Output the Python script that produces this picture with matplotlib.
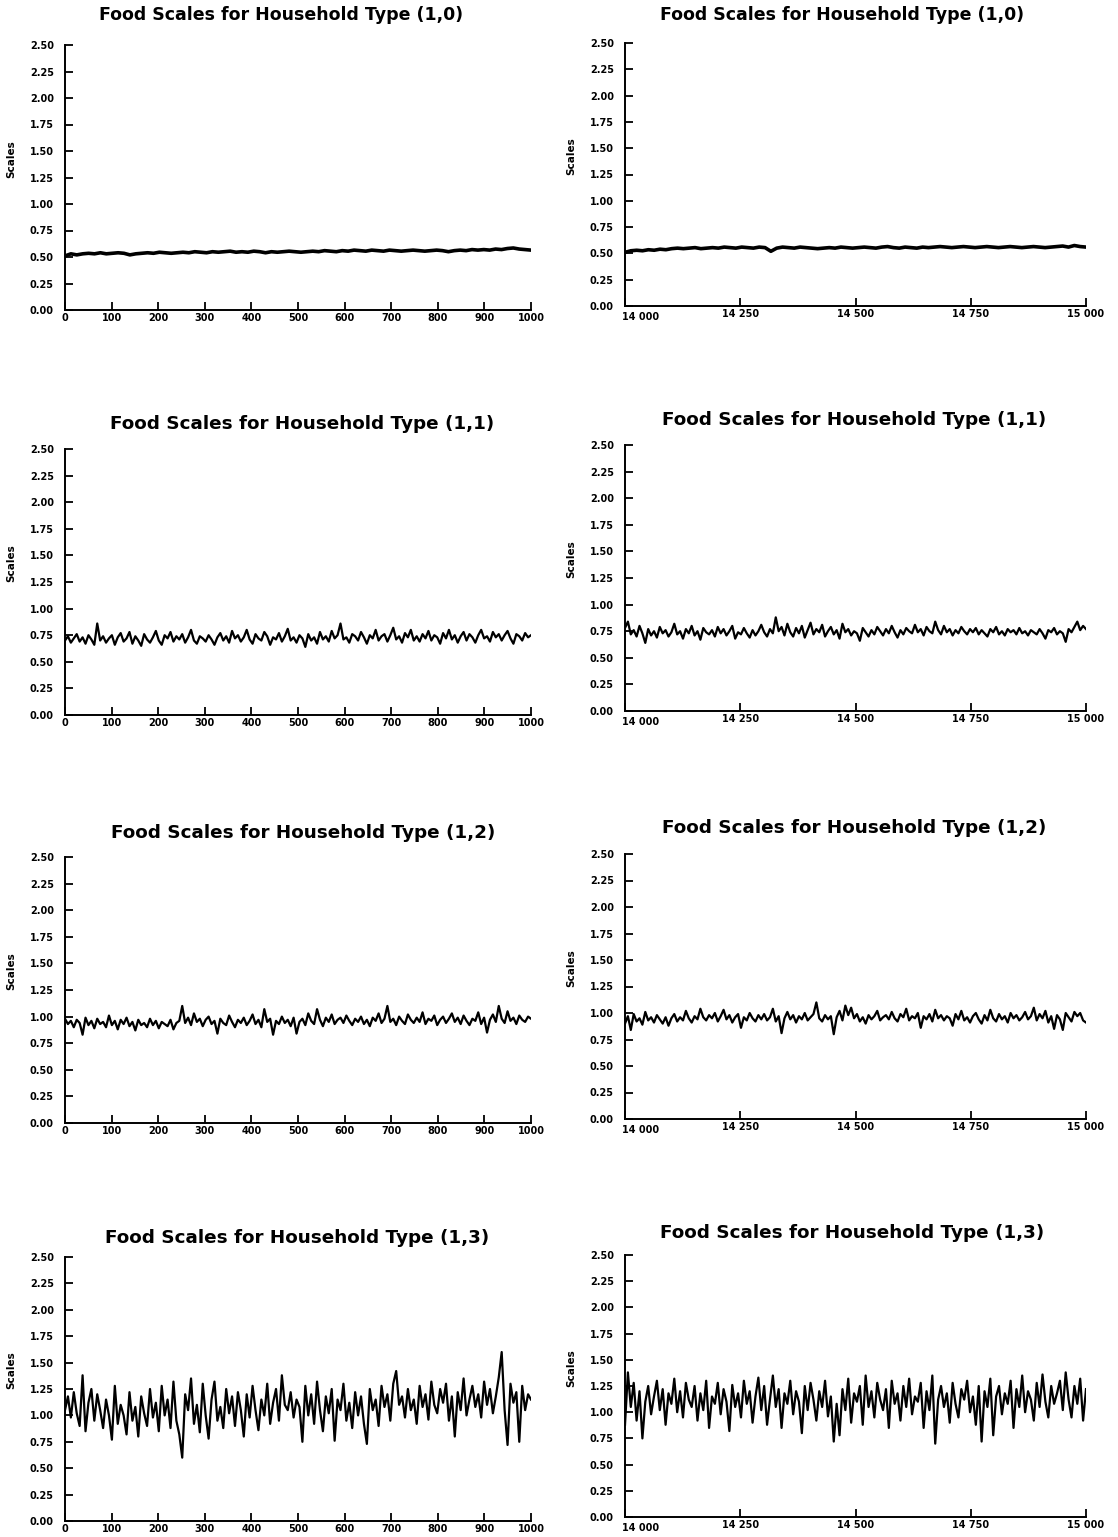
import numpy as np
import matplotlib
matplotlib.use("Agg")
import matplotlib.pyplot as plt
import matplotlib.transforms as mtransforms

# values (approximate)
scale_10_a = [0.51, 0.53, 0.52, 0.53, 0.535, 0.53, 0.54, 0.53, 0.535, 0.54,
              0.535, 0.52, 0.53, 0.535, 0.54, 0.535, 0.545, 0.54, 0.535, 0.54,
              0.545, 0.54, 0.55, 0.545, 0.54, 0.55, 0.545, 0.55, 0.555, 0.545,
              0.55, 0.545, 0.555, 0.55, 0.54, 0.55, 0.545, 0.55, 0.555, 0.55,
              0.545, 0.55, 0.555, 0.55, 0.56, 0.555, 0.55, 0.56, 0.555, 0.565,
              0.56, 0.555, 0.565, 0.56, 0.555, 0.565, 0.56, 0.555, 0.56, 0.565,
              0.56, 0.555, 0.56, 0.565, 0.56, 0.55, 0.56, 0.565, 0.56, 0.57,
              0.565, 0.57, 0.565, 0.575, 0.57, 0.58, 0.585, 0.575, 0.57, 0.565]

scale_10_b = [0.51, 0.525, 0.53, 0.525, 0.535, 0.53, 0.54, 0.535, 0.545, 0.55,
              0.545, 0.55, 0.555, 0.545, 0.55, 0.555, 0.55, 0.56, 0.555, 0.55,
              0.56, 0.555, 0.55, 0.56, 0.555, 0.52, 0.55, 0.56, 0.555, 0.55,
              0.56, 0.555, 0.55, 0.545, 0.55, 0.555, 0.55, 0.56, 0.555, 0.55,
              0.555, 0.56, 0.555, 0.55, 0.56, 0.565, 0.555, 0.55, 0.56, 0.555,
              0.55, 0.56, 0.555, 0.56, 0.565, 0.56, 0.555, 0.56, 0.565, 0.56,
              0.555, 0.56, 0.565, 0.56, 0.555, 0.56, 0.565, 0.56, 0.555, 0.56,
              0.565, 0.56, 0.555, 0.56, 0.565, 0.57, 0.56, 0.575, 0.565, 0.56]

scale_11_a = [0.70, 0.74, 0.68, 0.72, 0.76, 0.69, 0.73, 0.67, 0.75, 0.71,
              0.66, 0.86, 0.70, 0.74, 0.68, 0.72, 0.75, 0.66, 0.73, 0.77,
              0.69, 0.72, 0.78, 0.67, 0.74, 0.70, 0.65, 0.76, 0.71, 0.68,
              0.73, 0.79, 0.70, 0.66, 0.75, 0.72, 0.78, 0.69, 0.74, 0.71,
              0.76, 0.68, 0.73, 0.80, 0.70, 0.67, 0.74, 0.72, 0.69, 0.75,
              0.71, 0.66, 0.73, 0.77, 0.70, 0.74, 0.68, 0.79, 0.72, 0.75,
              0.69, 0.73, 0.80, 0.71, 0.67, 0.76, 0.72, 0.70, 0.78, 0.74,
              0.66, 0.73, 0.71, 0.77, 0.69, 0.74, 0.81, 0.70, 0.73, 0.68,
              0.75, 0.72, 0.64, 0.76, 0.70, 0.73, 0.67, 0.78, 0.71, 0.74,
              0.69, 0.79, 0.72, 0.75, 0.86, 0.71, 0.73, 0.68, 0.76, 0.74,
              0.70, 0.78, 0.73, 0.67, 0.75, 0.72, 0.80, 0.70, 0.74, 0.76,
              0.69, 0.75, 0.82, 0.71, 0.74, 0.68, 0.77, 0.73, 0.80, 0.70,
              0.74, 0.69, 0.76, 0.72, 0.79, 0.70, 0.75, 0.73, 0.67, 0.77,
              0.72, 0.80, 0.71, 0.75, 0.68, 0.74, 0.78, 0.70, 0.76, 0.73,
              0.68, 0.75, 0.80, 0.72, 0.74, 0.69, 0.78, 0.73, 0.76, 0.70,
              0.75, 0.79, 0.72, 0.67, 0.76, 0.74, 0.70, 0.77, 0.73, 0.75]

scale_11_b = [0.78, 0.84, 0.72, 0.76, 0.70, 0.80, 0.73, 0.64, 0.77, 0.71,
              0.75, 0.69, 0.79, 0.73, 0.76, 0.70, 0.74, 0.82, 0.72, 0.75,
              0.68, 0.77, 0.73, 0.80, 0.71, 0.75, 0.67, 0.78, 0.74, 0.72,
              0.76, 0.70, 0.79, 0.73, 0.77, 0.71, 0.75, 0.80, 0.68, 0.74,
              0.72, 0.78, 0.73, 0.69, 0.76, 0.71, 0.75, 0.81, 0.74, 0.70,
              0.77, 0.73, 0.88, 0.75, 0.79, 0.71, 0.82, 0.74, 0.70, 0.78,
              0.73, 0.80, 0.69, 0.76, 0.83, 0.72, 0.77, 0.74, 0.81, 0.70,
              0.75, 0.79, 0.72, 0.76, 0.68, 0.82, 0.74, 0.77, 0.71, 0.75,
              0.73, 0.66, 0.78, 0.74, 0.70, 0.76, 0.72, 0.79, 0.75, 0.71,
              0.77, 0.73, 0.80, 0.74, 0.69, 0.76, 0.72, 0.78, 0.75, 0.73,
              0.81, 0.74, 0.77, 0.71, 0.79, 0.75, 0.73, 0.84, 0.76, 0.72,
              0.80, 0.74, 0.77, 0.71, 0.76, 0.73, 0.79, 0.75, 0.72, 0.77,
              0.74, 0.78, 0.72, 0.76, 0.73, 0.70, 0.77, 0.74, 0.79, 0.72,
              0.75, 0.71, 0.77, 0.74, 0.76, 0.72, 0.78, 0.73, 0.75, 0.71,
              0.76, 0.74, 0.72, 0.77, 0.73, 0.68, 0.76, 0.74, 0.78, 0.72,
              0.75, 0.73, 0.65, 0.77, 0.74, 0.79, 0.84, 0.76, 0.80, 0.77]

scale_12_a = [0.98, 0.93, 0.96, 0.90, 0.97, 0.94, 0.83, 0.99, 0.92, 0.96,
              0.89, 0.98, 0.93, 0.95, 0.90, 1.01, 0.92, 0.96, 0.88, 0.97,
              0.93, 0.99, 0.91, 0.95, 0.87, 0.97, 0.92, 0.94, 0.90, 0.98,
              0.92, 0.96, 0.89, 0.95, 0.93, 0.91, 0.97, 0.88, 0.94, 0.96,
              1.10, 0.94, 0.99, 0.92, 1.03, 0.95, 0.98, 0.91, 0.97, 1.00,
              0.93, 0.96, 0.84, 0.98, 0.94, 0.92, 1.01, 0.95, 0.90, 0.97,
              0.94, 0.99, 0.92, 0.96, 1.02, 0.93, 0.97, 0.90, 1.07, 0.95,
              0.98, 0.83, 0.96, 0.93, 1.00, 0.94, 0.97, 0.91, 0.99, 0.84,
              0.95, 0.98, 0.92, 1.03, 0.96, 0.93, 1.07, 0.97, 0.91, 0.99,
              0.95, 1.02, 0.93, 0.97, 0.99, 0.94, 1.01, 0.96, 0.92, 0.98,
              0.95, 1.00, 0.93, 0.97, 0.91, 0.99, 0.96, 1.03, 0.94, 0.98,
              1.10, 0.95, 0.98, 0.92, 1.00, 0.96, 0.93, 1.02, 0.97, 0.94,
              0.99, 0.95, 1.04, 0.93, 0.98, 0.96, 1.01, 0.92, 0.97, 1.00,
              0.94, 0.98, 1.03, 0.95, 0.99, 0.93, 1.01, 0.96, 0.92, 0.98,
              0.96, 1.04, 0.93, 0.99, 0.85, 0.97, 1.02, 0.95, 1.10, 0.98,
              0.94, 1.05, 0.96, 0.99, 0.93, 1.01, 0.97, 0.95, 1.00, 0.98]

scale_12_b = [0.90, 0.97, 0.84, 0.99, 0.92, 0.95, 0.89, 1.01, 0.93, 0.96,
              0.91, 0.98, 0.94, 0.90, 0.96, 0.88, 0.95, 0.99, 0.92, 0.96,
              0.93, 1.02, 0.95, 0.91, 0.97, 0.94, 1.04, 0.96, 0.93, 0.98,
              0.95, 1.00, 0.92, 0.97, 1.03, 0.94, 0.98, 0.91, 0.96, 0.99,
              0.86, 0.96, 0.93, 1.00, 0.95, 0.92, 0.98, 0.94, 0.99, 0.93,
              0.96, 1.04, 0.92, 0.97, 0.81, 0.95, 1.01, 0.94, 0.98, 0.91,
              0.97, 0.94, 1.00, 0.93, 0.96, 0.99, 1.10, 0.95, 0.92, 0.98,
              0.94, 0.97, 0.80, 0.96, 1.02, 0.93, 1.07, 0.98, 1.05, 0.95,
              0.99, 0.92, 0.96, 0.90, 0.98, 0.94, 0.97, 1.02, 0.93, 0.96,
              0.98, 0.94, 1.01, 0.95, 0.92, 0.99, 0.96, 1.04, 0.93, 0.97,
              0.95, 1.00, 0.86, 0.97, 0.94, 0.99, 0.92, 1.03, 0.95, 0.98,
              0.93, 0.97, 0.95, 0.88, 0.99, 0.94, 1.02, 0.93, 0.96, 0.91,
              0.97, 1.00, 0.94, 0.90, 0.98, 0.93, 1.03, 0.95, 0.92, 0.99,
              0.94, 0.97, 0.91, 1.00, 0.95, 0.98, 0.93, 0.96, 1.01, 0.94,
              0.97, 1.05, 0.93, 0.99, 0.95, 1.02, 0.91, 0.97, 0.85, 0.98,
              0.94, 0.84, 1.00, 0.96, 0.92, 1.01, 0.97, 1.00, 0.93, 0.91]

scale_13_a = [1.05, 1.18, 0.98, 1.22, 1.02, 0.90, 1.38, 0.85, 1.12, 1.25,
              0.95, 1.20, 1.05, 0.88, 1.15, 1.00, 0.77, 1.28, 0.92, 1.10,
              1.00, 0.82, 1.22, 0.95, 1.08, 0.80, 1.18, 1.02, 0.90, 1.25,
              0.98, 1.12, 0.85, 1.28, 1.00, 1.15, 0.88, 1.32, 0.95, 0.82,
              0.60, 1.20, 1.05, 1.35, 0.92, 1.10, 0.84, 1.30, 1.00, 0.78,
              1.15, 1.32, 0.95, 1.08, 0.88, 1.25, 1.02, 1.18, 0.90, 1.22,
              1.05, 0.80, 1.20, 0.98, 1.28, 1.05, 0.86, 1.15, 1.00, 1.30,
              0.92, 1.12, 1.25, 0.95, 1.38, 1.10, 1.05, 1.22, 0.98, 1.15,
              1.08, 0.75, 1.28, 1.00, 1.20, 0.92, 1.32, 1.05, 0.85, 1.18,
              1.02, 1.25, 0.76, 1.15, 1.05, 1.30, 0.95, 1.12, 0.88, 1.22,
              1.00, 1.18, 0.92, 0.73, 1.25, 1.05, 1.15, 0.90, 1.28, 1.08,
              1.20, 0.95, 1.30, 1.42, 1.10, 1.18, 0.98, 1.25, 1.05, 1.15,
              0.92, 1.28, 1.08, 1.20, 0.96, 1.32, 1.10, 1.02, 1.25, 1.12,
              1.30, 0.95, 1.18, 0.80, 1.22, 1.05, 1.35, 1.00, 1.15, 1.28,
              1.08, 1.20, 0.98, 1.32, 1.10, 1.25, 1.02, 1.18, 1.36, 1.60,
              1.05, 0.72, 1.30, 1.12, 1.22, 0.75, 1.28, 1.05, 1.20, 1.15]

scale_13_b = [0.88, 1.38, 1.05, 1.28, 0.92, 1.20, 0.75, 1.10, 1.25, 0.98,
              1.15, 1.30, 1.02, 1.22, 0.88, 1.18, 1.08, 1.32, 1.00, 1.20,
              0.95, 1.28, 1.12, 1.05, 1.25, 0.92, 1.18, 1.02, 1.30, 0.85,
              1.15, 1.08, 1.28, 0.98, 1.22, 1.10, 0.82, 1.26, 1.05, 1.18,
              0.95, 1.30, 1.08, 1.20, 0.90, 1.15, 1.33, 1.02, 1.25, 0.88,
              1.12, 1.35, 1.05, 1.22, 0.85, 1.18, 1.08, 1.30, 0.98, 1.20,
              1.10, 0.80, 1.25, 1.02, 1.28, 1.12, 0.92, 1.20, 1.05, 1.30,
              0.96, 1.15, 0.72, 1.08, 0.78, 1.22, 1.02, 1.32, 0.90, 1.18,
              1.10, 1.25, 0.88, 1.35, 1.05, 1.20, 0.95, 1.28, 1.12, 1.02,
              1.22, 0.85, 1.30, 1.08, 1.18, 0.92, 1.25, 1.05, 1.32, 0.98,
              1.15, 1.10, 1.28, 0.85, 1.20, 1.02, 1.35, 0.70, 1.12, 1.25,
              1.05, 1.18, 0.90, 1.28, 1.08, 0.95, 1.22, 1.12, 1.30, 1.00,
              1.15, 0.88, 1.25, 0.72, 1.20, 1.05, 1.32, 0.78, 1.15, 1.25,
              0.98, 1.18, 1.08, 1.30, 0.85, 1.22, 1.05, 1.35, 1.00, 1.20,
              1.12, 0.92, 1.28, 1.05, 1.36, 1.10, 0.95, 1.25, 1.08, 1.18,
              1.30, 1.02, 1.38, 1.12, 0.95, 1.25, 1.08, 1.32, 0.92, 1.22]

household_types = ["(1,0)", "(1,1)", "(1,2)", "(1,3)"]
left_series = [scale_10_a, scale_11_a, scale_12_a, scale_13_a]
right_series = [scale_10_b, scale_11_b, scale_12_b, scale_13_b]

y_ticks = [0.0, 0.25, 0.5, 0.75, 1.0, 1.25, 1.5, 1.75, 2.0, 2.25, 2.5]
left_xticks = [0, 100, 200, 300, 400, 500, 600, 700, 800, 900, 1000]
right_xticks = [14000, 14250, 14500, 14750, 15000]
right_xlabels = ["14 000", "14 250", "14 500", "14 750", "15 000"]

W, H = 1118, 1537
fig = plt.figure(figsize=(W / 100, H / 100), dpi=100)

# pixel boxes (top, bottom) for each row, left and right column
rows_px = [((45, 310), (43, 306)),
           ((449, 715), (445, 711)),
           ((857, 1123), (854, 1119)),
           ((1257, 1521), (1255, 1517))]
cols_px = [(65, 531), (625, 1086)]
title_px = [((281, 15), (842, 15)),
            ((302, 424), (854, 420)),
            ((303, 833), (854, 828)),
            ((297, 1238), (852, 1233))]
title_size = [12.5, 13.2, 13.2, 13.2]


def style_axes(ax):
    ax.set_ylim(0, 2.5)
    ax.set_yticks(y_ticks)
    ax.yaxis.set_major_formatter("{x:.2f}")
    for s in ["top", "right"]:
        ax.spines[s].set_visible(False)
    for s in ["left", "bottom"]:
        ax.spines[s].set_linewidth(1.4)
    ax.tick_params(direction="in", length=6, width=1.3, labelsize=7, pad=2)
    ax.tick_params(axis="y", pad=8)
    for lab in ax.get_xticklabels() + ax.get_yticklabels():
        lab.set_fontweight("bold")
    ax.set_ylabel("Scales", fontsize=7.5, fontweight="bold")
    ax.yaxis.set_label_coords(-0.105, 0.57)


for r in range(4):
    for c in range(2):
        (top, bot) = rows_px[r][c]
        (x0, x1) = cols_px[c]
        ax = fig.add_axes([x0 / W, 1 - bot / H, (x1 - x0) / W, (bot - top) / H])
        vals = left_series[r] if c == 0 else right_series[r]
        lw = 2.6 if r == 0 else 1.6
        if c == 0:
            xs = np.linspace(0, 1000, len(vals))
            ax.plot(xs, vals, color="black", lw=lw)
            ax.set_xlim(0, 1000)
            ax.set_xticks(left_xticks)
        else:
            xs = np.linspace(14000, 15000, len(vals))
            ax.plot(xs, vals, color="black", lw=lw)
            ax.set_xlim(14000, 15000)
            ax.set_xticks(right_xticks)
            ax.set_xticklabels(right_xlabels)
        style_axes(ax)
        if c == 1:
            # first label sits to the right of the corner, as in the scan
            first = ax.get_xticklabels()[0]
            first.set_ha("left")
            first.set_transform(first.get_transform() +
                                mtransforms.ScaledTranslation(-3 / 100, -3 / 100, fig.dpi_scale_trans))
        tx, ty = title_px[r][c]
        fig.text(tx / W, 1 - ty / H, "Food Scales for Household Type " + household_types[r],
                 ha="center", va="center", fontsize=title_size[r], fontweight="bold")

fig.savefig("out.png", dpi=100)
